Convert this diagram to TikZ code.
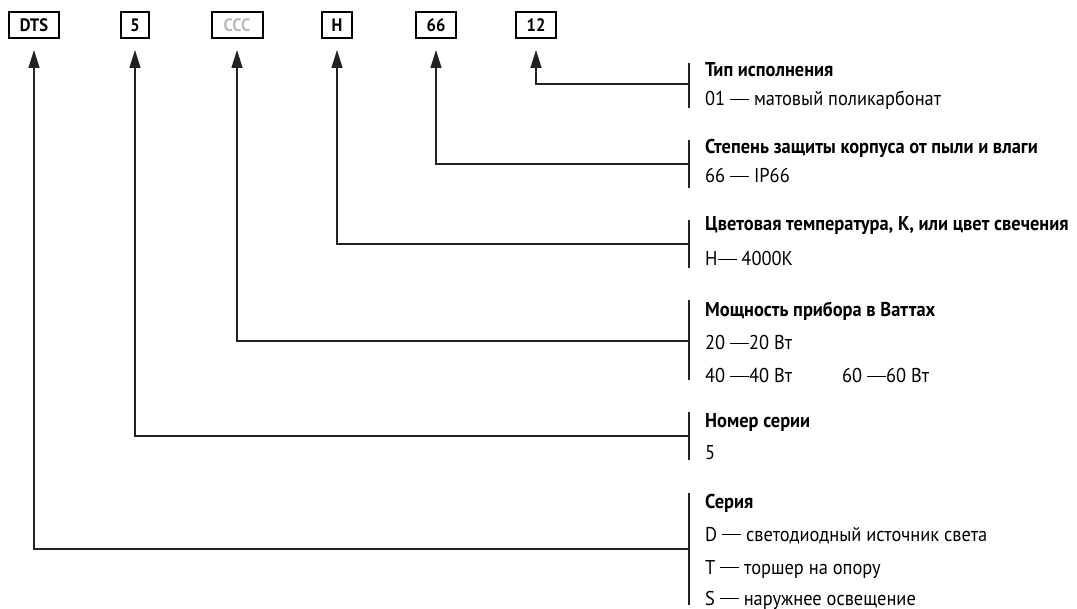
\documentclass[tikz,border=0pt]{standalone}
\usepackage{fontspec}
\setmainfont{PT Sans}[FakeStretch=0.92]
\usetikzlibrary{arrows.meta}
\definecolor{linegray}{HTML}{222222}
\definecolor{ghost}{HTML}{BBBBBB}
\newcommand\dash{\rule[0.3em]{0.95em}{1.1pt}}
\tikzset{
	codebox/.style={draw=black,line width=2pt,minimum height=26pt,inner sep=0pt,
		font=\bfseries\fontsize{18}{18}\selectfont},
	lead/.style={draw=linegray,line width=1.3pt,-{Triangle[length=18pt,width=11pt]},shorten >=11pt},
	brace/.style={draw=linegray,line width=1.3pt},
	head/.style={anchor=base west,inner sep=0pt,font=\bfseries\fontsize{20}{20}\selectfont},
	item/.style={anchor=base west,inner sep=0pt,font=\fontsize{20}{20}\selectfont},
}

\begin{document}
\begin{tikzpicture}[x=1pt,y=-1pt]
	\useasboundingbox (0,0) rectangle (1077,609);
	\newcommand\bx{689};
	\newcommand\tx{705};
	\foreach \nm/\txt/\cx/\bw/\col in {dts/DTS/34/50/black, ser/5/135/28/black, pwr/CCC/237/51/ghost,
		cct/H/337/30/black, ip/66/436/40/black, typ/12/536/40/black} {
		\node[codebox,minimum width=\bw pt,text=\col] (\nm) at (\cx,25) {\txt};
	}
	\coordinate (j-typ) at (\bx,84);
	\coordinate (j-ip) at (\bx,164);
	\coordinate (j-cct) at (\bx,244);
	\coordinate (j-pwr) at (\bx,341);
	\coordinate (j-ser) at (\bx,436);
	\coordinate (j-dts) at (\bx,549);
	\foreach \nm in {typ,ip,cct,pwr,ser,dts} {
		\draw[lead] (j-\nm) -| (\nm.south);
	}
	\draw[brace] (\bx,63) -- (\bx,108);
	\draw[brace] (\bx,140) -- (\bx,188);
	\draw[brace] (\bx,220) -- (\bx,268);
	\draw[brace] (\bx,300) -- (\bx,380);
	\draw[brace] (\bx,412) -- (\bx,460);
	\draw[brace] (\bx,493) -- (\bx,605);
	\node[head] (typ-h) at (\tx,77) {Тип исполнения};
	\node[item] (typ-a) at (\tx,106) {01 \dash{} матовый поликарбонат};
	\node[head] (ip-h) at (\tx,154) {Степень защиты корпуса от пыли и влаги};
	\node[item] (ip-a) at (\tx,183) {66 \dash{} IP66};
	\node[head] (cct-h) at (\tx,231) {Цветовая температура, К, или цвет свечения};
	\node[item] (cct-a) at (\tx,266) {H\dash{} 4000К};
	\node[head] (pwr-h) at (\tx,317) {Мощность прибора в Ваттах};
	\node[item] (pwr-a) at (\tx,350) {20 \dash 20 Вт};
	\node[item] (pwr-b) at (\tx,383) {40 \dash 40 Вт};
	\node[item] (pwr-c) at (842,383) {60 \dash 60 Вт};
	\node[head] (ser-h) at (\tx,428) {Номер серии};
	\node[item] (ser-a) at (\tx,460) {5};
	\node[head] (dts-h) at (\tx,508) {Серия};
	\node[item] (dts-a) at (\tx,541) {D \dash{} светодиодный источник света};
	\node[item] (dts-b) at (\tx,574) {T \dash{} торшер на опору};
	\node[item] (dts-c) at (\tx,605) {S \dash{} наружнее освещение};
\end{tikzpicture}
\end{document}
